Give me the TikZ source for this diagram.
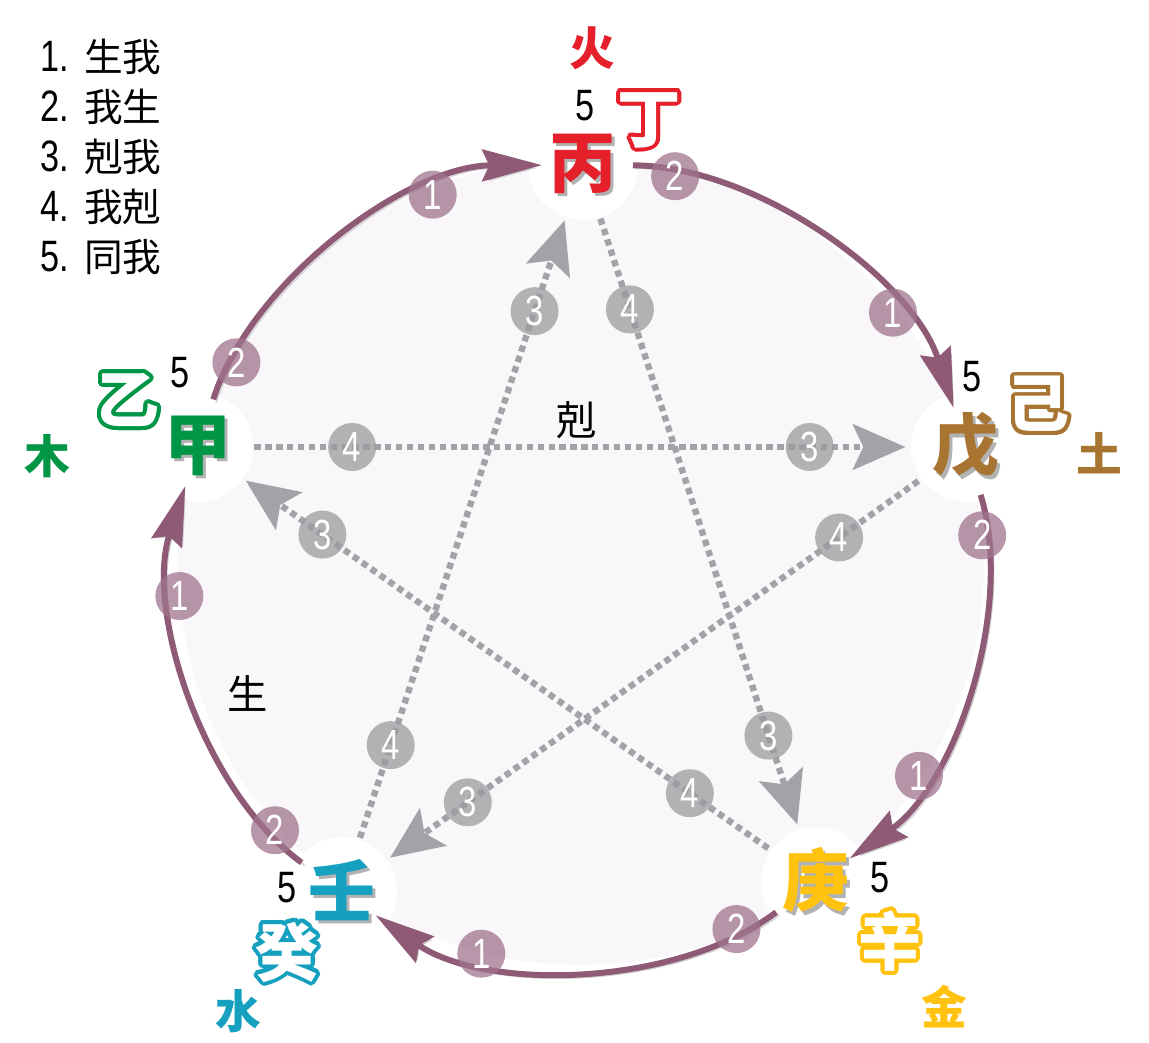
\documentclass[tikz,border=0pt]{standalone}
\usepackage{fontspec}
\usepackage{contour}
\usepackage{tikz}
\usetikzlibrary{arrows.meta,backgrounds}

\newfontfamily\cjk{Noto Sans CJK SC}
\newfontfamily\narrow{Liberation Sans}[FakeStretch=0.78]
\contourlength{1.1pt}
\contournumber{24}

\definecolor{arcpurple}{HTML}{8E5A76}
\definecolor{labpurple}{HTML}{A0748E}
\definecolor{labgray}{HTML}{9B9B9F}
\definecolor{dotgray}{HTML}{A3A3A7}
\definecolor{bgtint}{HTML}{F9F7F9}
\definecolor{firered}{HTML}{E5202A}
\definecolor{earth}{HTML}{A87432}
\definecolor{metal}{HTML}{FFC20E}
\definecolor{water}{HTML}{15A0C0}
\definecolor{wood}{HTML}{009646}

\newcommand\stemtext[2]{\makebox[0pt][l]{\hspace{0.9pt}\raisebox{-0.9pt}{\color{black!30}#2}}{\color{#1}#2}}
\newcommand\hollow[2]{{\color{white}\contour{#1}{#2}}}

\begin{document}
\begin{tikzpicture}[stem/.style={circle, minimum size=0.76cm, inner sep=0pt, font=\cjk\bfseries\fontsize{19}{19}\selectfont},
	twin/.style={inner sep=0pt, font=\cjk\bfseries\fontsize{18}{18}\selectfont},
	elem/.style={inner sep=0pt, font=\cjk\bfseries\fontsize{13}{13}\selectfont},
	five/.style={inner sep=0pt, font=\narrow\fontsize{12.5}{12.5}\selectfont},
	plain/.style={inner sep=0pt, font=\cjk\fontsize{11.5}{11.5}\selectfont},
	legend/.style={anchor=west, inner sep=0pt, font=\cjk\fontsize{11}{11}\selectfont},
	plab/.style={circle, fill=labpurple, fill opacity=.75, text opacity=1, text=white, minimum size=0.48cm, inner sep=0pt, font=\narrow\fontsize{12}{12}\selectfont},
	glab/.style={plab, fill=labgray},
	sheng/.style={draw, color=arcpurple, line width=1.7pt, -{Stealth[length=17pt,width=9pt,inset=2pt]}, shorten <=0.5cm, shorten >=0.41cm,
		preaction={draw, color=black!18, transform canvas={shift={(0.03,-0.03)}}}},
	ke/.style={draw, color=dotgray, line width=1.8pt, dash pattern=on 1.8pt off 1.3pt, -{Stealth[length=15pt,width=13pt,inset=3pt]}, shorten <=0.10cm, shorten >=0.12cm,
		preaction={draw, color=black!15, transform canvas={shift={(0.03,-0.03)}}}}]
	\useasboundingbox (0,0) rectangle (11.49,-10.43);
	
	% legend
	\foreach \n/\t [count=\i] in {1/生我, 2/我生, 3/剋我, 4/我剋, 5/同我}
		\node[legend] (leg\i) at (0.40,-0.07-0.5*\i) {{\narrow\fontsize{12.5}{12.5}\selectfont\n.}\hspace{0.15cm}\t};
	
	% stems
	\node[stem] (bing) at (5.83,-1.65){\stemtext{firered}{丙}};
	\node[stem] (wu) at (9.66,-4.47){\stemtext{earth}{戊}};
	\node[stem] (geng) at (8.16,-8.82){\stemtext{metal}{庚}};
	\node[stem] (ren) at (3.42,-8.92){\stemtext{water}{壬}};
	\node[stem] (jia) at (1.98,-4.47){\stemtext{wood}{甲}};
	
	\node[twin] (ding) at (6.49,-1.22){\hollow{firered}{丁}};
	\node[twin] (ji) at (10.38,-4.06){\hollow{earth}{己}};
	\node[twin] (xin) at (8.90,-9.43){\hollow{metal}{辛}};
	\node[twin] (gui) at (2.87,-9.54){\hollow{water}{癸}};
	\node[twin] (yi) at (1.28,-4.02){\hollow{wood}{乙}};
	
	\node[elem, text=firered] (huo) at (5.92,-0.48){火};
	\node[elem, text=earth] (tu) at (10.99,-4.53){土};
	\node[elem, text=metal] (jin) at (9.44,-10.06){金};
	\node[elem, text=water] (shui) at (2.38,-10.11){水};
	\node[elem, text=wood] (mu) at (0.47,-4.56){木};
	
	\node[five] (f1) at (5.85,-1.06){5};
	\node[five] (f2) at (9.72,-3.77){5};
	\node[five] (f3) at (8.80,-8.78){5};
	\node[five] (f4) at (2.87,-8.88){5};
	\node[five] (f5) at (1.80,-3.73){5};
	
	\node[plain] (kelab) at (5.77,-4.20){剋};
	\node[plain] (shenglab) at (2.48,-6.93){生};
	
	% generating cycle
	\path[sheng] (jia.center) to[bend left=36, looseness=.94] node[pos=.18,plab]{2} node[pos=.70,plab]{1} (bing.center);
	\path[sheng] (bing.center) to[bend left=36, looseness=.94] node[pos=.18,plab]{2} node[pos=.70,plab]{1} (wu.center);
	\path[sheng] (wu.center) to[bend left=36, looseness=.94] node[pos=.18,plab]{2} node[pos=.70,plab]{1} (geng.center);
	\path[sheng] (geng.center) to[bend left=36, looseness=.94] node[pos=.18,plab]{2} node[pos=.70,plab]{1} (ren.center);
	\path[sheng] (ren.center) to[bend left=36, looseness=.94] node[pos=.18,plab]{2} node[pos=.70,plab]{1} (jia.center);
	
	% controlling star
	\path[ke] (jia) edge node[pos=.16,glab]{4} node[pos=.84,glab]{3} (wu);
	\path[ke] (wu) edge node[pos=.16,glab]{4} node[pos=.84,glab]{3} (ren);
	\path[ke] (ren) edge node[pos=.16,glab]{4} node[pos=.84,glab]{3} (bing);
	\path[ke] (bing) edge node[pos=.16,glab]{4} node[pos=.84,glab]{3} (geng);
	\path[ke] (geng) edge node[pos=.16,glab]{4} node[pos=.84,glab]{3} (jia);
	
	\begin{scope}[on background layer]
		\fill[bgtint] (5.81,-5.62) circle (4.03);
		\foreach \s in {bing,wu,geng,ren,jia}
			\fill[white] (\s) circle (0.55);
	\end{scope}
\end{tikzpicture}
\end{document}
